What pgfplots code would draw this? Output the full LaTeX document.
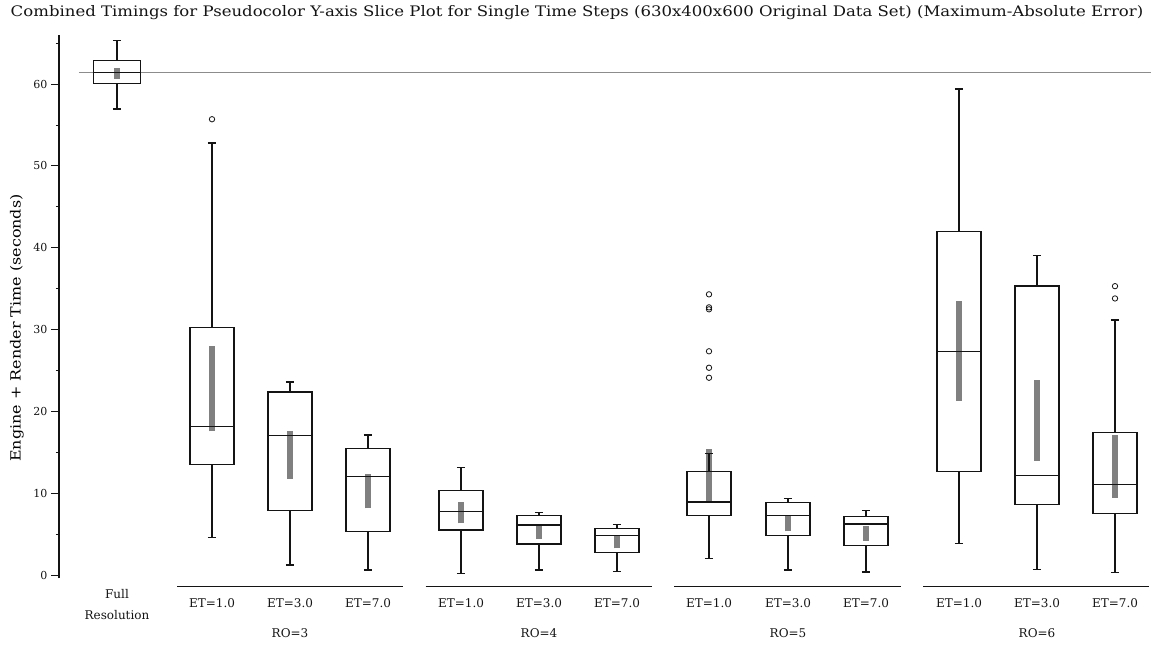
\documentclass[border=0pt]{standalone}
\usepackage{fontspec}
\setmainfont{DejaVu Serif}
\newfontfamily\widefont{DejaVu Serif}[FakeStretch=1.14]
\usepackage{pgfplots}
\pgfplotsset{compat=1.18}
\definecolor{bargray}{RGB}{128,128,128}
\definecolor{refgray}{RGB}{140,140,140}
\definecolor{boxblack}{RGB}{20,20,20}

\pgfplotsset{
  boxline/.style={draw=boxblack, line width=1.25pt, solid, no markers, forget plot,
    unbounded coords=jump, line join=miter},
  greybar/.style={draw=bargray, line width=6.5pt, line cap=butt, forget plot, no markers},
  outl/.style={only marks, mark=o, mark size=2.7pt, forget plot,
    mark options={line width=0.8pt, draw=boxblack, fill=white}},
}

% box: x, half width, lower whisker, lower quartile, median, upper quartile, upper whisker
\newcommand{\boxat}[7]{%
  \pgfmathsetmacro\bxl{#1-#2}\pgfmathsetmacro\bxr{#1+#2}%
  \pgfmathsetmacro\bcl{#1-4.2}\pgfmathsetmacro\bcr{#1+4.2}%
  \edef\bxtmp{\noexpand\addplot[boxline] coordinates {
    (\bxl,#4) (\bxr,#4) (\bxr,#6) (\bxl,#6) (\bxl,#4) (\bxr,#4) (\bxr,nan)
    (\bxl,#5) (\bxr,#5) (\bxr,nan)
    (#1,#6) (#1,#7) (#1,nan)
    (\bcl,#7) (\bcr,#7) (\bcr,nan)
    (#1,#4) (#1,#3) (#1,nan)
    (\bcl,#3) (\bcr,#3)};}%
  \bxtmp}

\begin{document}
\begin{tikzpicture}
\useasboundingbox (-59pt,-66.7pt) rectangle (1094pt,578.3pt);
\begin{axis}[
  x=1pt, y=8.183pt,
  xmin=59, xmax=1153, ymin=-0.4, ymax=66,
  clip=false,
  hide x axis,
  axis y line*=left,
  ytick pos=left,
  tick align=outside,
  ytick={0,10,...,60},
  minor ytick={5,15,...,65},
  major tick length=8pt,
  minor tick length=3pt,
  every tick/.style={draw=boxblack, line width=0.9pt},
  y axis line style={draw=boxblack, line width=1.25pt},
  /pgf/number format/assume math mode=true,
  yticklabel style={font=\fontsize{11}{13}\selectfont, text=boxblack},
  ylabel={Engine + Render Time (seconds)},
  every axis y label/.style={at={(axis description cs:-0.0384,0.4606)}, rotate=90, anchor=center, font=\widefont\fontsize{14}{16}\selectfont},
]
% reference line
\addplot[draw=refgray, line width=1.3pt, forget plot] coordinates {(79,61.4) (1150.5,61.4)};

% grey bars (drawn first)
\addplot[greybar] coordinates {(117,60.65) (117,62.0)};
\addplot[greybar] coordinates {(212,17.57) (212,28.0)};
\addplot[greybar] coordinates {(290,11.77) (290,17.63)};
\addplot[greybar] coordinates {(368,8.15) (368,12.31)};
\addplot[greybar] coordinates {(461,6.32) (461,8.88)};
\addplot[greybar] coordinates {(539,4.40) (539,6.11)};
\addplot[greybar] coordinates {(617,3.26) (617,4.85)};
\addplot[greybar] coordinates {(709,8.96) (709,15.40)};
\addplot[greybar] coordinates {(788,5.34) (788,7.37)};
\addplot[greybar] coordinates {(866,4.19) (866,6.02)};
\addplot[greybar] coordinates {(959,21.25) (959,33.48)};
\addplot[greybar] coordinates {(1037,13.92) (1037,23.87)};
\addplot[greybar] coordinates {(1115,9.42) (1115,17.11)};

% boxes: x, half width, lw, lq, med, uq, uw
\boxat{117}{23.5}{56.95}{60.08}{61.39}{62.85}{65.3}
\boxat{212}{22}{4.56}{13.53}{18.12}{30.27}{52.8}
\boxat{290}{22}{1.22}{7.86}{17.02}{22.36}{23.59}
\boxat{368}{22}{0.61}{5.29}{12.01}{15.44}{17.11}
\boxat{461}{22}{0.16}{5.50}{7.74}{10.35}{13.16}
\boxat{539}{22}{0.61}{3.79}{6.11}{7.29}{7.61}
\boxat{617}{22}{0.40}{2.73}{4.85}{5.71}{6.20}
\boxat{709}{22}{2.04}{7.25}{8.92}{12.62}{14.87}
\boxat{788}{22}{0.61}{4.80}{7.25}{8.84}{9.32}
\boxat{866}{22}{0.37}{3.63}{6.23}{7.17}{7.86}
\boxat{959}{22}{3.81}{12.61}{27.30}{41.95}{59.38}
\boxat{1037}{22}{0.67}{8.60}{12.16}{35.32}{39.04}
\boxat{1115}{22}{0.34}{7.50}{11.02}{17.44}{31.15}

% outliers
\addplot[outl] coordinates {(212,55.7)};
\addplot[outl] coordinates {(709,24.11) (709,25.33) (709,27.34) (709,32.47) (709,32.71) (709,34.30)};
\addplot[outl] coordinates {(1115,33.8) (1115,35.3)};

% group lines
\draw[boxblack, line width=1.4pt] (axis cs:177.3,-1.43) -- (axis cs:403.3,-1.43);
\draw[boxblack, line width=1.4pt] (axis cs:425.7,-1.43) -- (axis cs:651.7,-1.43);
\draw[boxblack, line width=1.4pt] (axis cs:674.3,-1.43) -- (axis cs:900.7,-1.43);
\draw[boxblack, line width=1.4pt] (axis cs:923.3,-1.43) -- (axis cs:1149.3,-1.43);

% category labels
\begin{scope}[every node/.style={font=\fontsize{12}{14}\selectfont, text=boxblack, anchor=center}]
\node[align=center, font=\fontsize{12}{21}\selectfont] at (axis cs:117,-3.6) {Full\\Resolution};
\node at (axis cs:212,-3.42) {ET=1.0};
\node at (axis cs:290,-3.42) {ET=3.0};
\node at (axis cs:368,-3.42) {ET=7.0};
\node at (axis cs:461,-3.42) {ET=1.0};
\node at (axis cs:539,-3.42) {ET=3.0};
\node at (axis cs:617,-3.42) {ET=7.0};
\node at (axis cs:709,-3.42) {ET=1.0};
\node at (axis cs:788,-3.42) {ET=3.0};
\node at (axis cs:866,-3.42) {ET=7.0};
\node at (axis cs:959,-3.42) {ET=1.0};
\node at (axis cs:1037,-3.42) {ET=3.0};
\node at (axis cs:1115,-3.42) {ET=7.0};
\node at (axis cs:290,-7.09) {RO=3};
\node at (axis cs:539,-7.09) {RO=4};
\node at (axis cs:788,-7.09) {RO=5};
\node at (axis cs:1037,-7.09) {RO=6};
\end{scope}
\end{axis}
\node[font=\widefont\fontsize{14.5}{16}\selectfont, text=boxblack, anchor=center] at (518pt,565.3pt) {Combined Timings for Pseudocolor Y-axis Slice Plot for Single Time Steps (630x400x600 Original Data Set) (Maximum-Absolute Error)};
\end{tikzpicture}
\end{document}
